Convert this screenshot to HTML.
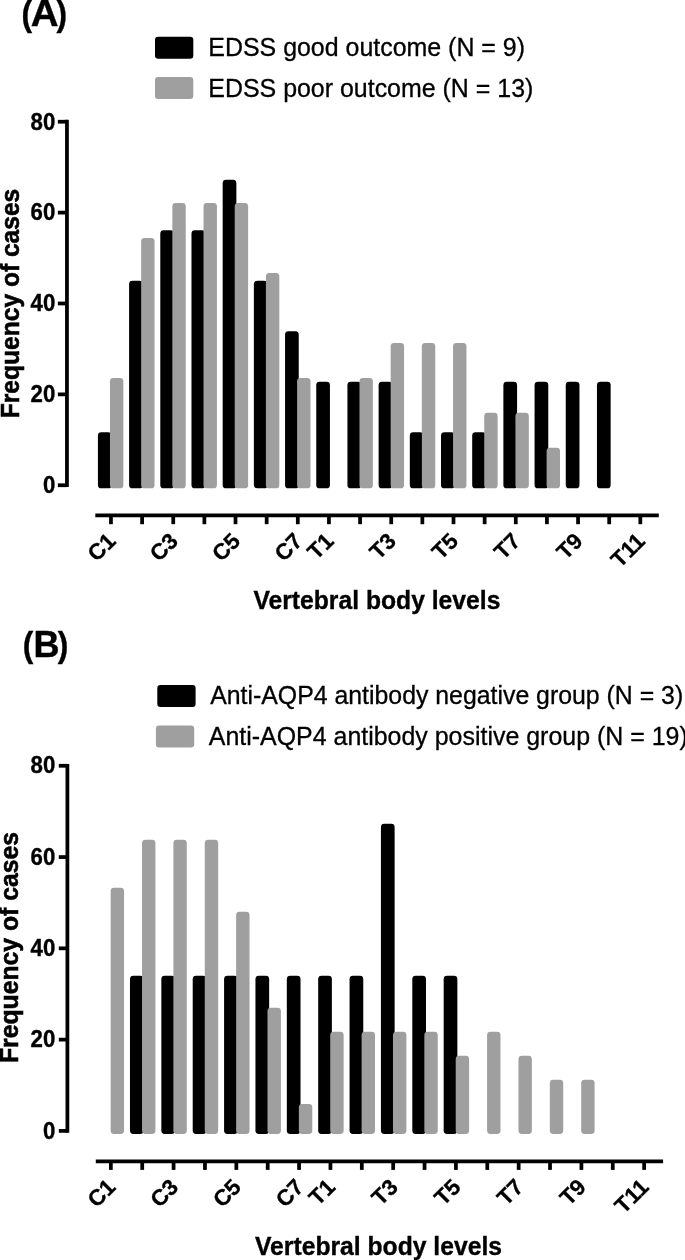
<!DOCTYPE html>
<html><head><meta charset="utf-8"><title>Figure</title>
<style>
html,body{margin:0;padding:0;background:#fff;}
svg{display:block;}
text{font-family:"Liberation Sans",sans-serif;fill:#000;}
.tk{font-size:22.2px;font-weight:bold;stroke:#000;stroke-width:0.35px;}
.xl{font-size:22.3px;font-weight:bold;stroke:#000;stroke-width:0.3px;}
.tt{font-size:24.7px;font-weight:bold;stroke:#000;stroke-width:0.35px;}
.yt{font-weight:bold;stroke:#000;stroke-width:0.55px;}
.pl{font-size:36px;font-weight:bold;stroke:#000;stroke-width:0.4px;}
.lg{stroke:#000;stroke-width:0.3px;}
</style></head><body>
<svg width="685" height="1260" viewBox="0 0 685 1260">
<rect width="685" height="1260" fill="#fff"/>
<rect x="97.91" y="432.26" width="13.7" height="56.04" rx="3.4" ry="3.4" fill="#000"/>
<rect x="109.96" y="377.89" width="13.4" height="110.41" rx="3.4" ry="3.4" fill="#9f9f9f"/>
<rect x="129.10" y="280.79" width="13.7" height="207.51" rx="3.4" ry="3.4" fill="#000"/>
<rect x="141.15" y="238.07" width="13.4" height="250.23" rx="3.4" ry="3.4" fill="#9f9f9f"/>
<rect x="160.29" y="230.31" width="13.7" height="257.99" rx="3.4" ry="3.4" fill="#000"/>
<rect x="172.34" y="203.12" width="13.4" height="285.18" rx="3.4" ry="3.4" fill="#9f9f9f"/>
<rect x="191.48" y="230.31" width="13.7" height="257.99" rx="3.4" ry="3.4" fill="#000"/>
<rect x="203.53" y="203.12" width="13.4" height="285.18" rx="3.4" ry="3.4" fill="#9f9f9f"/>
<rect x="222.67" y="179.82" width="13.7" height="308.48" rx="3.4" ry="3.4" fill="#000"/>
<rect x="234.72" y="203.12" width="13.4" height="285.18" rx="3.4" ry="3.4" fill="#9f9f9f"/>
<rect x="253.86" y="280.79" width="13.7" height="207.51" rx="3.4" ry="3.4" fill="#000"/>
<rect x="265.91" y="273.03" width="13.4" height="215.27" rx="3.4" ry="3.4" fill="#9f9f9f"/>
<rect x="285.05" y="331.28" width="13.7" height="157.02" rx="3.4" ry="3.4" fill="#000"/>
<rect x="297.10" y="377.89" width="13.4" height="110.41" rx="3.4" ry="3.4" fill="#9f9f9f"/>
<rect x="316.24" y="381.77" width="13.7" height="106.53" rx="3.4" ry="3.4" fill="#000"/>
<rect x="347.43" y="381.77" width="13.7" height="106.53" rx="3.4" ry="3.4" fill="#000"/>
<rect x="359.48" y="377.89" width="13.4" height="110.41" rx="3.4" ry="3.4" fill="#9f9f9f"/>
<rect x="378.62" y="381.77" width="13.7" height="106.53" rx="3.4" ry="3.4" fill="#000"/>
<rect x="390.67" y="342.93" width="13.4" height="145.37" rx="3.4" ry="3.4" fill="#9f9f9f"/>
<rect x="409.81" y="432.26" width="13.7" height="56.04" rx="3.4" ry="3.4" fill="#000"/>
<rect x="421.86" y="342.93" width="13.4" height="145.37" rx="3.4" ry="3.4" fill="#9f9f9f"/>
<rect x="441.00" y="432.26" width="13.7" height="56.04" rx="3.4" ry="3.4" fill="#000"/>
<rect x="453.05" y="342.93" width="13.4" height="145.37" rx="3.4" ry="3.4" fill="#9f9f9f"/>
<rect x="472.19" y="432.26" width="13.7" height="56.04" rx="3.4" ry="3.4" fill="#000"/>
<rect x="484.24" y="412.84" width="13.4" height="75.46" rx="3.4" ry="3.4" fill="#9f9f9f"/>
<rect x="503.38" y="381.77" width="13.7" height="106.53" rx="3.4" ry="3.4" fill="#000"/>
<rect x="515.43" y="412.84" width="13.4" height="75.46" rx="3.4" ry="3.4" fill="#9f9f9f"/>
<rect x="534.57" y="381.77" width="13.7" height="106.53" rx="3.4" ry="3.4" fill="#000"/>
<rect x="546.62" y="447.80" width="13.4" height="40.50" rx="3.4" ry="3.4" fill="#9f9f9f"/>
<rect x="565.76" y="381.77" width="13.7" height="106.53" rx="3.4" ry="3.4" fill="#000"/>
<rect x="596.95" y="381.77" width="13.7" height="106.53" rx="3.4" ry="3.4" fill="#000"/>
<path d="M66.95 119.86 V487.12" stroke="#000" stroke-width="3.75" fill="none"/>
<path d="M57.85 485.25 H66.95" stroke="#000" stroke-width="3.75" fill="none"/>
<text transform="translate(55.30 493.05) scale(1 1.07)" text-anchor="end" class="tk">0</text>
<path d="M57.85 394.37 H66.95" stroke="#000" stroke-width="3.75" fill="none"/>
<text transform="translate(55.30 402.17) scale(1 1.07)" text-anchor="end" class="tk">20</text>
<path d="M57.85 303.49 H66.95" stroke="#000" stroke-width="3.75" fill="none"/>
<text transform="translate(55.30 311.29) scale(1 1.07)" text-anchor="end" class="tk">40</text>
<path d="M57.85 212.61 H66.95" stroke="#000" stroke-width="3.75" fill="none"/>
<text transform="translate(55.30 220.41) scale(1 1.07)" text-anchor="end" class="tk">60</text>
<path d="M57.85 121.73 H66.95" stroke="#000" stroke-width="3.75" fill="none"/>
<text transform="translate(55.30 129.53) scale(1 1.07)" text-anchor="end" class="tk">80</text>
<path d="M95.30 515.40 H658.80" stroke="#000" stroke-width="3.75" fill="none"/>
<path d="M110.96 515.40 V524.20" stroke="#000" stroke-width="3.75" fill="none"/>
<text transform="translate(116.96 542.40) rotate(-45)" text-anchor="end" class="xl">C1</text>
<path d="M142.10 515.40 V524.20" stroke="#000" stroke-width="3.75" fill="none"/>
<path d="M173.24 515.40 V524.20" stroke="#000" stroke-width="3.75" fill="none"/>
<text transform="translate(179.24 542.40) rotate(-45)" text-anchor="end" class="xl">C3</text>
<path d="M204.38 515.40 V524.20" stroke="#000" stroke-width="3.75" fill="none"/>
<path d="M235.52 515.40 V524.20" stroke="#000" stroke-width="3.75" fill="none"/>
<text transform="translate(241.52 542.40) rotate(-45)" text-anchor="end" class="xl">C5</text>
<path d="M266.66 515.40 V524.20" stroke="#000" stroke-width="3.75" fill="none"/>
<path d="M297.80 515.40 V524.20" stroke="#000" stroke-width="3.75" fill="none"/>
<text transform="translate(303.80 542.40) rotate(-45)" text-anchor="end" class="xl">C7</text>
<path d="M328.94 515.40 V524.20" stroke="#000" stroke-width="3.75" fill="none"/>
<text transform="translate(334.94 542.40) rotate(-45)" text-anchor="end" class="xl">T1</text>
<path d="M360.08 515.40 V524.20" stroke="#000" stroke-width="3.75" fill="none"/>
<path d="M391.22 515.40 V524.20" stroke="#000" stroke-width="3.75" fill="none"/>
<text transform="translate(397.22 542.40) rotate(-45)" text-anchor="end" class="xl">T3</text>
<path d="M422.36 515.40 V524.20" stroke="#000" stroke-width="3.75" fill="none"/>
<path d="M453.50 515.40 V524.20" stroke="#000" stroke-width="3.75" fill="none"/>
<text transform="translate(459.50 542.40) rotate(-45)" text-anchor="end" class="xl">T5</text>
<path d="M484.64 515.40 V524.20" stroke="#000" stroke-width="3.75" fill="none"/>
<path d="M515.78 515.40 V524.20" stroke="#000" stroke-width="3.75" fill="none"/>
<text transform="translate(521.78 542.40) rotate(-45)" text-anchor="end" class="xl">T7</text>
<path d="M546.92 515.40 V524.20" stroke="#000" stroke-width="3.75" fill="none"/>
<path d="M578.06 515.40 V524.20" stroke="#000" stroke-width="3.75" fill="none"/>
<text transform="translate(584.06 542.40) rotate(-45)" text-anchor="end" class="xl">T9</text>
<path d="M609.20 515.40 V524.20" stroke="#000" stroke-width="3.75" fill="none"/>
<path d="M640.34 515.40 V524.20" stroke="#000" stroke-width="3.75" fill="none"/>
<text transform="translate(646.34 542.40) rotate(-45)" text-anchor="end" class="xl">T11</text>
<text transform="translate(376.90 608.50) scale(1 1.03)" text-anchor="middle" class="tt">Vertebral body levels</text>
<text transform="translate(18.50 303.50) rotate(-90) scale(1 1.06)" text-anchor="middle" class="yt" font-size="24.6">Frequency of cases</text>
<text transform="translate(21.60 25.70) scale(0.88 1)" class="pl">(</text>
<text transform="translate(30.70 25.70) scale(1.07 1)" class="pl">A</text>
<text transform="translate(56.60 25.70) scale(0.88 1)" class="pl">)</text>
<rect x="155.00" y="36.70" width="38.3" height="22" rx="3.2" ry="3.2" fill="#000"/>
<text x="208.30" y="56.20" class="lg" font-size="24.95">EDSS good outcome (N = 9)</text>
<rect x="155.00" y="77.00" width="38.3" height="22" rx="3.2" ry="3.2" fill="#9f9f9f"/>
<text x="208.30" y="96.50" class="lg" font-size="24.95">EDSS poor outcome (N = 13)</text>
<rect x="110.65" y="887.69" width="13.4" height="246.21" rx="3.4" ry="3.4" fill="#9f9f9f"/>
<rect x="129.97" y="975.77" width="13.7" height="158.13" rx="3.4" ry="3.4" fill="#000"/>
<rect x="142.02" y="839.65" width="13.4" height="294.25" rx="3.4" ry="3.4" fill="#9f9f9f"/>
<rect x="161.34" y="975.77" width="13.7" height="158.13" rx="3.4" ry="3.4" fill="#000"/>
<rect x="173.39" y="839.65" width="13.4" height="294.25" rx="3.4" ry="3.4" fill="#9f9f9f"/>
<rect x="192.71" y="975.77" width="13.7" height="158.13" rx="3.4" ry="3.4" fill="#000"/>
<rect x="204.76" y="839.65" width="13.4" height="294.25" rx="3.4" ry="3.4" fill="#9f9f9f"/>
<rect x="224.08" y="975.77" width="13.7" height="158.13" rx="3.4" ry="3.4" fill="#000"/>
<rect x="236.13" y="911.71" width="13.4" height="222.19" rx="3.4" ry="3.4" fill="#9f9f9f"/>
<rect x="255.45" y="975.77" width="13.7" height="158.13" rx="3.4" ry="3.4" fill="#000"/>
<rect x="267.50" y="1007.79" width="13.4" height="126.11" rx="3.4" ry="3.4" fill="#9f9f9f"/>
<rect x="286.82" y="975.77" width="13.7" height="158.13" rx="3.4" ry="3.4" fill="#000"/>
<rect x="298.87" y="1103.88" width="13.4" height="30.02" rx="3.4" ry="3.4" fill="#9f9f9f"/>
<rect x="318.19" y="975.77" width="13.7" height="158.13" rx="3.4" ry="3.4" fill="#000"/>
<rect x="330.24" y="1031.82" width="13.4" height="102.08" rx="3.4" ry="3.4" fill="#9f9f9f"/>
<rect x="349.56" y="975.77" width="13.7" height="158.13" rx="3.4" ry="3.4" fill="#000"/>
<rect x="361.61" y="1031.82" width="13.4" height="102.08" rx="3.4" ry="3.4" fill="#9f9f9f"/>
<rect x="380.93" y="823.63" width="13.7" height="310.27" rx="3.4" ry="3.4" fill="#000"/>
<rect x="392.98" y="1031.82" width="13.4" height="102.08" rx="3.4" ry="3.4" fill="#9f9f9f"/>
<rect x="412.30" y="975.77" width="13.7" height="158.13" rx="3.4" ry="3.4" fill="#000"/>
<rect x="424.35" y="1031.82" width="13.4" height="102.08" rx="3.4" ry="3.4" fill="#9f9f9f"/>
<rect x="443.67" y="975.77" width="13.7" height="158.13" rx="3.4" ry="3.4" fill="#000"/>
<rect x="455.72" y="1055.84" width="13.4" height="78.06" rx="3.4" ry="3.4" fill="#9f9f9f"/>
<rect x="487.09" y="1031.82" width="13.4" height="102.08" rx="3.4" ry="3.4" fill="#9f9f9f"/>
<rect x="518.46" y="1055.84" width="13.4" height="78.06" rx="3.4" ry="3.4" fill="#9f9f9f"/>
<rect x="549.83" y="1079.86" width="13.4" height="54.04" rx="3.4" ry="3.4" fill="#9f9f9f"/>
<rect x="581.20" y="1079.86" width="13.4" height="54.04" rx="3.4" ry="3.4" fill="#9f9f9f"/>
<path d="M67.40 763.91 V1132.78" stroke="#000" stroke-width="3.75" fill="none"/>
<path d="M58.80 1130.90 H67.40" stroke="#000" stroke-width="3.75" fill="none"/>
<text transform="translate(55.30 1138.50) scale(1 1.07)" text-anchor="end" class="tk">0</text>
<path d="M58.80 1039.62 H67.40" stroke="#000" stroke-width="3.75" fill="none"/>
<text transform="translate(55.30 1047.22) scale(1 1.07)" text-anchor="end" class="tk">20</text>
<path d="M58.80 948.34 H67.40" stroke="#000" stroke-width="3.75" fill="none"/>
<text transform="translate(55.30 955.94) scale(1 1.07)" text-anchor="end" class="tk">40</text>
<path d="M58.80 857.06 H67.40" stroke="#000" stroke-width="3.75" fill="none"/>
<text transform="translate(55.30 864.66) scale(1 1.07)" text-anchor="end" class="tk">60</text>
<path d="M58.80 765.78 H67.40" stroke="#000" stroke-width="3.75" fill="none"/>
<text transform="translate(55.30 773.38) scale(1 1.07)" text-anchor="end" class="tk">80</text>
<path d="M95.80 1161.35 H663.10" stroke="#000" stroke-width="3.75" fill="none"/>
<path d="M110.85 1161.35 V1169.90" stroke="#000" stroke-width="3.75" fill="none"/>
<text transform="translate(116.85 1188.35) rotate(-45)" text-anchor="end" class="xl">C1</text>
<path d="M142.22 1161.35 V1169.90" stroke="#000" stroke-width="3.75" fill="none"/>
<path d="M173.59 1161.35 V1169.90" stroke="#000" stroke-width="3.75" fill="none"/>
<text transform="translate(179.59 1188.35) rotate(-45)" text-anchor="end" class="xl">C3</text>
<path d="M204.96 1161.35 V1169.90" stroke="#000" stroke-width="3.75" fill="none"/>
<path d="M236.33 1161.35 V1169.90" stroke="#000" stroke-width="3.75" fill="none"/>
<text transform="translate(242.33 1188.35) rotate(-45)" text-anchor="end" class="xl">C5</text>
<path d="M267.70 1161.35 V1169.90" stroke="#000" stroke-width="3.75" fill="none"/>
<path d="M299.07 1161.35 V1169.90" stroke="#000" stroke-width="3.75" fill="none"/>
<text transform="translate(305.07 1188.35) rotate(-45)" text-anchor="end" class="xl">C7</text>
<path d="M330.44 1161.35 V1169.90" stroke="#000" stroke-width="3.75" fill="none"/>
<text transform="translate(336.44 1188.35) rotate(-45)" text-anchor="end" class="xl">T1</text>
<path d="M361.81 1161.35 V1169.90" stroke="#000" stroke-width="3.75" fill="none"/>
<path d="M393.18 1161.35 V1169.90" stroke="#000" stroke-width="3.75" fill="none"/>
<text transform="translate(399.18 1188.35) rotate(-45)" text-anchor="end" class="xl">T3</text>
<path d="M424.55 1161.35 V1169.90" stroke="#000" stroke-width="3.75" fill="none"/>
<path d="M455.92 1161.35 V1169.90" stroke="#000" stroke-width="3.75" fill="none"/>
<text transform="translate(461.92 1188.35) rotate(-45)" text-anchor="end" class="xl">T5</text>
<path d="M487.29 1161.35 V1169.90" stroke="#000" stroke-width="3.75" fill="none"/>
<path d="M518.66 1161.35 V1169.90" stroke="#000" stroke-width="3.75" fill="none"/>
<text transform="translate(524.66 1188.35) rotate(-45)" text-anchor="end" class="xl">T7</text>
<path d="M550.03 1161.35 V1169.90" stroke="#000" stroke-width="3.75" fill="none"/>
<path d="M581.40 1161.35 V1169.90" stroke="#000" stroke-width="3.75" fill="none"/>
<text transform="translate(587.40 1188.35) rotate(-45)" text-anchor="end" class="xl">T9</text>
<path d="M612.77 1161.35 V1169.90" stroke="#000" stroke-width="3.75" fill="none"/>
<path d="M644.14 1161.35 V1169.90" stroke="#000" stroke-width="3.75" fill="none"/>
<text transform="translate(650.14 1188.35) rotate(-45)" text-anchor="end" class="xl">T11</text>
<text transform="translate(378.50 1255.20) scale(1 1.03)" text-anchor="middle" class="tt">Vertebral body levels</text>
<text transform="translate(18.00 947.50) rotate(-90) scale(1 1.06)" text-anchor="middle" class="yt" font-size="24.75">Frequency of cases</text>
<text transform="translate(22.70 657.25) scale(0.88 1)" class="pl">(</text>
<text transform="translate(33.40 657.25) scale(1.0 1)" class="pl">B</text>
<text transform="translate(57.70 657.25) scale(0.88 1)" class="pl">)</text>
<rect x="157.30" y="685.00" width="38.3" height="22" rx="3.2" ry="3.2" fill="#000"/>
<text x="210.20" y="704.40" class="lg" font-size="24.85">Anti-AQP4 antibody negative group (N = 3)</text>
<rect x="155.90" y="725.50" width="38.3" height="22" rx="3.2" ry="3.2" fill="#9f9f9f"/>
<text x="208.80" y="745.10" class="lg" font-size="24.95">Anti-AQP4 antibody positive group (N = 19)</text>
</svg>
</body></html>
